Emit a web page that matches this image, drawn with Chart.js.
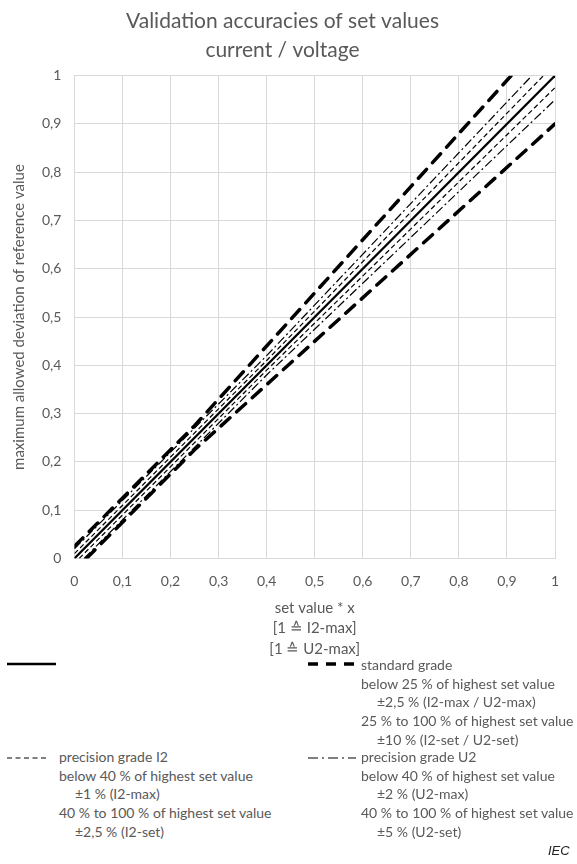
<!DOCTYPE html>
<html>
<head>
<meta charset="utf-8">
<script src="https://cdn.jsdelivr.net/npm/chart.js@4"></script>
<style>
  body { margin: 0; background: #fff; font-family: Lato, "Open Sans", sans-serif; color: #595959; }
  #wrap { position: relative; width: 577px; height: 864px; }
  #chartBox { position: absolute; left: 0; top: 0; width: 577px; height: 659px; }
  .lg { position: absolute; font-size: 14px; line-height: 18.7px; white-space: nowrap; }
  .lg div.in { padding-left: 16px; }
  svg.smp { position: absolute; }
  #iec { position: absolute; left: 548px; top: 843px; font-family: "Liberation Sans", Arial, sans-serif; font-style: italic; font-size: 13px; color: #222; }
</style>
</head>
<body>
<div id="wrap">
  <div id="chartBox"><canvas id="accChart"></canvas></div>

  <svg class="smp" style="left:6px;top:660px" width="52" height="8"><line x1="1" y1="4" x2="50" y2="4" stroke="#000" stroke-width="2.5"/></svg>

  <svg class="smp" style="left:306px;top:660px" width="52" height="8"><line x1="2" y1="4" x2="50" y2="4" stroke="#000" stroke-width="3.5" stroke-dasharray="10 8"/></svg>
  <div class="lg" style="left:361px;top:656px">
    <div>standard grade</div>
    <div>below 25 % of highest set value</div>
    <div class="in">±2,5 % (I2-max / U2-max)</div>
    <div>25 % to 100 % of highest set value</div>
    <div class="in">±10 % (I2-set / U2-set)</div>
  </div>

  <svg class="smp" style="left:6px;top:754px" width="44" height="8"><line x1="1" y1="4" x2="42" y2="4" stroke="#000" stroke-width="1" stroke-dasharray="5 3.5"/></svg>
  <div class="lg" style="left:59px;top:748px">
    <div>precision grade I2</div>
    <div>below 40 % of highest set value</div>
    <div class="in">±1 % (I2-max)</div>
    <div>40 % to 100 % of highest set value</div>
    <div class="in">±2,5 % (I2-set)</div>
  </div>

  <svg class="smp" style="left:306px;top:754px" width="52" height="8"><line x1="2" y1="4" x2="50" y2="4" stroke="#000" stroke-width="1.2" stroke-dasharray="10 4 2 4"/></svg>
  <div class="lg" style="left:361px;top:748px">
    <div>precision grade U2</div>
    <div>below 40 % of highest set value</div>
    <div class="in">±2 % (U2-max)</div>
    <div>40 % to 100 % of highest set value</div>
    <div class="in">±5 % (U2-set)</div>
  </div>

  <div id="iec">IEC</div>
</div>

<script>
// reference line y = x
const refX = [0, 1];
const refY = [0, 1];

// standard grade: ±0,025 below 25 %, ±10 % above
const stdUpperX = [0, 0.25, 0.909];
const stdUpperY = [0.025, 0.275, 1];
const stdLowerX = [0.025, 0.25, 1];
const stdLowerY = [0, 0.225, 0.9];

// precision grade I2: ±0,01 below 40 %, ±2,5 % above
const i2UpperX = [0, 0.4, 0.976];
const i2UpperY = [0.01, 0.41, 1];
const i2LowerX = [0.01, 0.4, 1];
const i2LowerY = [0, 0.39, 0.975];

// precision grade U2: ±0,02 below 40 %, ±5 % above
const u2UpperX = [0, 0.4, 0.952];
const u2UpperY = [0.02, 0.42, 1];
const u2LowerX = [0.02, 0.4, 1];
const u2LowerY = [0, 0.38, 0.95];

const tickValues = [0, 0.1, 0.2, 0.3, 0.4, 0.5, 0.6, 0.7, 0.8, 0.9, 1];

const pts = (xs, ys) => xs.map((x, i) => ({ x: x, y: ys[i] }));
const gray = "#595959";
const gridColor = "#d9d9d9";
const fontFam = "Lato, 'Open Sans', sans-serif";

const stdStyle = { borderColor: "black", borderWidth: 3.5, borderDash: [12, 9], borderCapStyle: "round" };
const i2Style = { borderColor: "black", borderWidth: 1.2, borderDash: [5, 3] };
const u2Style = { borderColor: "black", borderWidth: 1.2, borderDash: [9, 3, 2, 3] };

new Chart("accChart", {
  type: "scatter",
  data: {
    datasets: [
      { label: "reference", data: pts(refX, refY), borderColor: "black", borderWidth: 2.2 },
      Object.assign({ label: "standard grade +", data: pts(stdUpperX, stdUpperY) }, stdStyle),
      Object.assign({ label: "standard grade -", data: pts(stdLowerX, stdLowerY) }, stdStyle),
      Object.assign({ label: "precision grade I2 +", data: pts(i2UpperX, i2UpperY) }, i2Style),
      Object.assign({ label: "precision grade I2 -", data: pts(i2LowerX, i2LowerY) }, i2Style),
      Object.assign({ label: "precision grade U2 +", data: pts(u2UpperX, u2UpperY) }, u2Style),
      Object.assign({ label: "precision grade U2 -", data: pts(u2LowerX, u2LowerY) }, u2Style)
    ]
  },
  options: {
    responsive: true,
    maintainAspectRatio: false,
    animation: false,
    showLine: true,
    elements: { point: { radius: 0, hoverRadius: 0 }, line: { tension: 0 } },
    layout: { padding: { left: 10, right: 22, top: 4, bottom: 0 } },
    plugins: {
      legend: { display: false },
      tooltip: { enabled: false },
      title: {
        display: true,
        text: ["Validation accuracies of set values", "current / voltage"],
        color: gray,
        font: { family: fontFam, size: 21, weight: "normal", lineHeight: 1.42 },
        padding: { top: 2, bottom: 10 }
      }
    },
    scales: {
      x: {
        type: "linear",
        min: 0,
        max: 1,
        afterBuildTicks: (axis) => { axis.ticks = tickValues.map(v => ({ value: v })); },
        ticks: {
          color: gray,
          font: { family: fontFam, size: 14 },
          padding: 15,
          callback: (v) => String(Math.round(v * 10) / 10).replace(".", ",")
        },
        grid: { color: gridColor, drawTicks: false },
        border: { color: gridColor },
        title: {
          display: true,
          text: ["set value * x", "[1 \u2259 I2-max]", "[1 \u2259 U2-max]"],
          color: gray,
          font: { family: fontFam, size: 15, lineHeight: 1.35 },
          padding: { top: -7, bottom: 0 }
        }
      },
      y: {
        type: "linear",
        min: 0,
        max: 1,
        afterBuildTicks: (axis) => { axis.ticks = tickValues.map(v => ({ value: v })); },
        ticks: {
          color: gray,
          font: { family: fontFam, size: 14 },
          padding: 13,
          callback: (v) => String(Math.round(v * 10) / 10).replace(".", ",")
        },
        grid: { color: gridColor, drawTicks: false },
        border: { color: gridColor },
        title: {
          display: true,
          text: "maximum allowed deviation of reference value",
          color: gray,
          font: { family: fontFam, size: 15 },
          padding: { top: 0, bottom: 1 }
        }
      }
    }
  }
});
</script>
</body>
</html>
